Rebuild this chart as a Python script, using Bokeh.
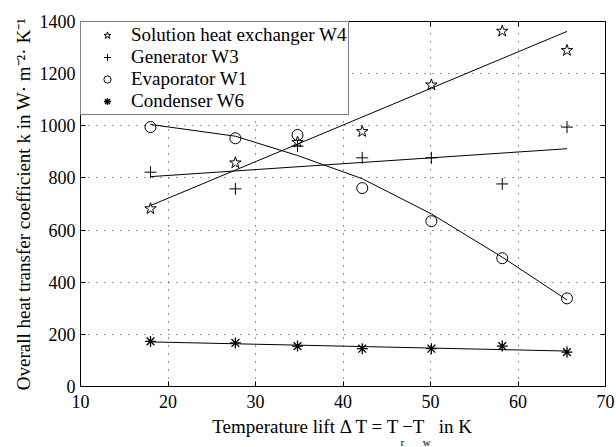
from bokeh.plotting import figure
from bokeh.models import (Range1d, FixedTicker, LinearAxis, Legend, LegendItem, Title,
                          CustomJSTickFormatter)
from bokeh.embed import file_html
from bokeh.resources import INLINE

# ---- data ----
x_lift = [18.0, 27.7, 34.8, 42.2, 50.1, 58.2, 65.6]

shx_w4 = [682, 858, 937, 978, 1157, 1363, 1289]
gen_w3 = [822, 758, 922, 877, 877, 777, 995]
evap_w1 = [995, 952, 965, 761, 634, 492, 338]
cond_w6 = [173, 167, 155, 145, 145, 155, 132]

# fitted curves
fit_x_ends = [18.0, 65.6]
fit_shx = [694, 1362]
fit_gen = [805, 912]
fit_cond = [171, 136]
fit_evap = [1005, 960, 886, 797, 662, 496, 332]

x_ticks = [10, 20, 30, 40, 50, 60, 70]
y_ticks = [0, 200, 400, 600, 800, 1000, 1200, 1400]

labels = ["Solution heat exchanger W4", "Generator W3", "Evaporator W1", "Condenser W6"]
y_title = "Overall heat transfer coefficient k in W\u00b7 m\u207b\u00b2\u00b7 K\u207b\u00b9"
x_title = "Temperature lift \u0394 T = T\u2009\u2212T\u2002 in K"
x_subs = ["r", "w"]

FONT = "Liberation Serif"

p = figure(width=616, height=447, output_backend="svg", toolbar_location=None,
           x_range=Range1d(10, 70), y_range=Range1d(0, 1400),
           min_border_left=80, min_border_right=11, min_border_top=21, min_border_bottom=61)
p.background_fill_color = "white"
p.border_fill_color = "white"
p.outline_line_color = "black"
p.outline_line_width = 1

for ax in (p.xaxis[0], p.yaxis[0]):
    ax.major_tick_in = 5
    ax.major_tick_out = 0
    ax.minor_tick_line_color = None
    ax.axis_line_color = "black"
    ax.major_tick_line_color = "black"
    ax.major_label_text_font = FONT
    ax.major_label_text_font_size = "18px"
    ax.major_label_text_color = "black"
    ax.axis_label_text_font = FONT
    ax.axis_label_text_font_style = "normal"
    ax.axis_label_text_color = "black"

p.xaxis.ticker = FixedTicker(ticks=x_ticks)
p.yaxis.ticker = FixedTicker(ticks=y_ticks)
p.xaxis.major_label_standoff = 8
p.yaxis.major_label_standoff = 5
p.yaxis.major_label_orientation = "horizontal"

p.yaxis.axis_label = y_title
p.yaxis.axis_label_text_font_size = "19px"
p.yaxis.axis_label_standoff = 3
p.xaxis.axis_label = x_title
p.xaxis.axis_label_text_font_size = "19px"
p.xaxis.axis_label_standoff = 5

# mirror axes (box on), ticks only
blank = CustomJSTickFormatter(code="return ''")
right = LinearAxis(ticker=FixedTicker(ticks=y_ticks), formatter=blank,
                   major_tick_in=5, major_tick_out=0, minor_tick_line_color=None,
                   major_label_standoff=0, axis_line_color="black")
top = LinearAxis(ticker=FixedTicker(ticks=x_ticks), formatter=blank,
                 major_tick_in=5, major_tick_out=0, minor_tick_line_color=None,
                 major_label_standoff=0, axis_line_color="black")
p.add_layout(right, "right")
p.add_layout(top, "above")

p.xgrid.ticker = FixedTicker(ticks=x_ticks)
p.ygrid.ticker = FixedTicker(ticks=y_ticks)
for g in (p.xgrid[0], p.ygrid[0]):
    g.grid_line_color = "#333333"
    g.grid_line_dash = "1 7"
    g.grid_line_width = 1

# fit lines
p.line(fit_x_ends, fit_shx, line_color="black", line_width=1)
p.line(fit_x_ends, fit_gen, line_color="black", line_width=1)
p.line(x_lift, fit_evap, line_color="black", line_width=1)
p.line(fit_x_ends, fit_cond, line_color="black", line_width=1)

# markers
r1 = p.scatter(x_lift, shx_w4, marker="star", size=12, line_color="black", fill_color=None, line_width=1)
r2 = p.scatter(x_lift, gen_w3, marker="cross", size=12, line_color="black", line_width=1)
r3 = p.scatter(x_lift, evap_w1, marker="circle", size=11, line_color="black", fill_color=None, line_width=1)
r4 = p.scatter(x_lift, cond_w6, marker="asterisk", size=11, line_color="black", line_width=1.3)

legend = Legend(items=[LegendItem(label=labels[0], renderers=[r1]),
                       LegendItem(label=labels[1], renderers=[r2]),
                       LegendItem(label=labels[2], renderers=[r3]),
                       LegendItem(label=labels[3], renderers=[r4])],
                location="top_left", margin=0, padding=2, spacing=0,
                glyph_width=48, glyph_height=18, label_height=21, label_standoff=0,
                label_text_font=FONT, label_text_font_size="19px", label_text_color="black",
                border_line_color="black", border_line_width=1,
                background_fill_color="white", background_fill_alpha=1)
p.add_layout(legend)

# subscripts of the x-axis title, in a side panel under the axis label
subs = Title(text=x_subs[0] + "\u2003\u2002\u2009" + x_subs[1], align="left", offset=320,
             standoff=-12, text_font=FONT, text_font_size="11px",
             text_font_style="normal", text_color="black")
p.add_layout(subs, "below")

open("out.html", "w").write(file_html(p, INLINE))
